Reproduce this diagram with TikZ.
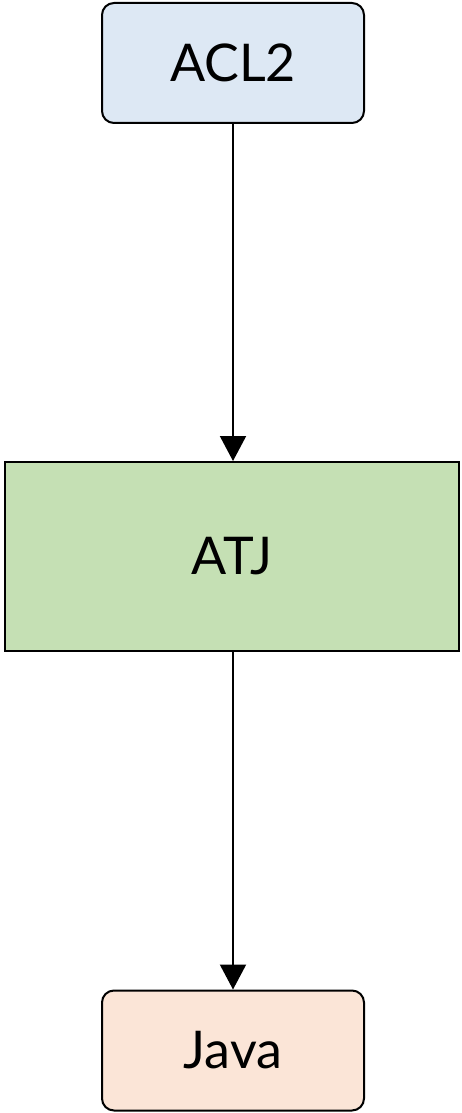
\documentclass[tikz,border=0pt]{standalone}
\usepackage{fontspec}
\setmainfont{Lato}
\usetikzlibrary{arrows.meta}
\begin{document}
\begin{tikzpicture}[x=1pt,y=-1pt,
  box/.style={draw=black, line width=2pt, inner sep=0pt,
    font=\fontsize{52}{56}\selectfont},
  rbox/.style={box, rounded corners=12pt,
    minimum width=262pt, minimum height=120pt},
  conn/.style={line width=2pt, -{Triangle[length=25pt,width=26pt]}}]
\useasboundingbox (0,0) rectangle (461,1113);
\definecolor{blueFill}{HTML}{DDE8F4}
\definecolor{greenFill}{HTML}{C5E0B4}
\definecolor{peachFill}{HTML}{FBE5D7}
\node[rbox, fill=blueFill] (acl) at (233,63) {ACL2};
\node[box, fill=greenFill, minimum width=454pt, minimum height=189pt]
  (atj) at (232,556.5) {ATJ};
\node[rbox, fill=peachFill] (java) at (233,1050.5) {Java};
% vertical connectors along the axis of the small boxes
\draw[conn] (acl.south) -- (acl.south |- atj.north);
\draw[conn] (java.north |- atj.south) -- (java.north);
\end{tikzpicture}
\end{document}
